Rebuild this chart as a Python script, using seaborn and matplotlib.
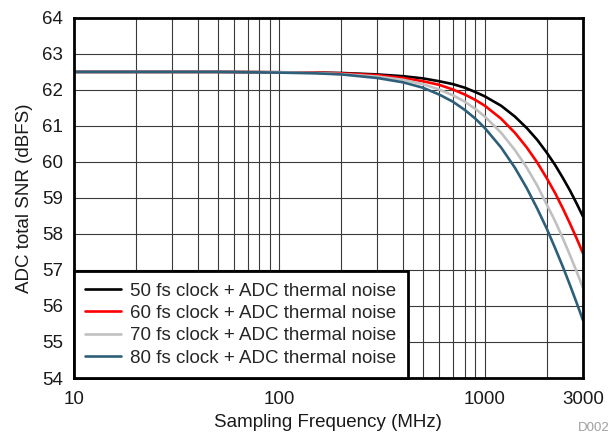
import matplotlib
matplotlib.use('Agg')

import matplotlib.pyplot as plt
import seaborn as sns
import pandas as pd
from matplotlib.ticker import FixedLocator, NullFormatter, NullLocator

# Sampling frequency (MHz) and SNR (dBFS)
freq = [10, 50, 100, 150, 200, 300, 400, 500, 600, 700, 800, 900, 1000,
        1200, 1400, 1600, 1800, 2000, 2200, 2400, 2600, 2800, 3000]
snr_50fs = [62.50, 62.50, 62.49, 62.48, 62.47, 62.43, 62.38, 62.32, 62.24, 62.16, 62.06, 61.94, 61.82,
            61.56, 61.26, 60.94, 60.61, 60.26, 59.91, 59.55, 59.20, 58.84, 58.49]
snr_60fs = [62.50, 62.50, 62.49, 62.48, 62.46, 62.41, 62.33, 62.24, 62.14, 62.01, 61.87, 61.72, 61.56,
            61.20, 60.81, 60.40, 59.98, 59.55, 59.13, 58.70, 58.28, 57.87, 57.47]
snr_70fs = [62.50, 62.50, 62.49, 62.47, 62.44, 62.37, 62.28, 62.16, 62.01, 61.85, 61.67, 61.47, 61.26,
            60.81, 60.33, 59.84, 59.34, 58.82, 58.35, 57.87, 57.40, 56.95, 56.51]
snr_80fs = [62.50, 62.50, 62.48, 62.46, 62.43, 62.33, 62.21, 62.06, 61.87, 61.67, 61.44, 61.20, 60.94,
            60.40, 59.84, 59.27, 58.70, 58.15, 57.60, 57.08, 56.57, 56.08, 55.61]

labels = ['50 fs clock + ADC thermal noise', '60 fs clock + ADC thermal noise',
          '70 fs clock + ADC thermal noise', '80 fs clock + ADC thermal noise']
colores = ['#000000', '#ff0000', '#c0c0c0', '#2e5f7a']

df = pd.concat([
    pd.DataFrame({'freq': freq, 'snr': s, 'serie': l})
    for s, l in zip([snr_50fs, snr_60fs, snr_70fs, snr_80fs], labels)
])

sns.set_style('white')
plt.rcParams['font.family'] = ['Liberation Sans', 'DejaVu Sans']
fs = 13.5

fig = plt.figure(figsize=(6.11, 4.36), dpi=100)
ax = fig.add_axes([0.121, 0.133, 0.833, 0.826])

sns.lineplot(data=df, x='freq', y='snr', hue='serie', palette=colores,
             linewidth=1.9, ax=ax)

ax.set_xscale('log')
ax.set_xlim(10, 3000)
ax.set_ylim(54, 64)

# grid lines (decades + minors)
grid_x = [20, 30, 40, 50, 60, 70, 80, 90, 100, 200, 300, 400, 500, 600, 700, 800, 900, 1000, 2000]
for gx in grid_x:
    ax.axvline(gx, color='#3a3a3a', linewidth=0.8, zorder=0)
for gy in range(55, 64):
    ax.axhline(gy, color='#3a3a3a', linewidth=0.8, zorder=0)

ax.xaxis.set_major_locator(FixedLocator([10, 100, 1000, 3000]))
ax.set_xticklabels(['10', '100', '1000', '3000'])
ax.xaxis.set_minor_locator(NullLocator())
ax.xaxis.set_minor_formatter(NullFormatter())
ax.set_yticks(range(54, 65))
ax.tick_params(axis='x', length=0, labelsize=fs, pad=9, colors='#1a1a1a')
ax.tick_params(axis='y', length=0, labelsize=fs, pad=8, colors='#1a1a1a')

ax.set_xlabel('Sampling Frequency (MHz)', fontsize=fs, labelpad=5, color='#1a1a1a')
ax.set_ylabel('ADC total SNR (dBFS)', fontsize=fs, labelpad=6, color='#1a1a1a')

for sp in ax.spines.values():
    sp.set_color('black')
    sp.set_linewidth(2)

leg = ax.legend(loc='lower left', borderaxespad=0, fancybox=False, fontsize=fs,
                handlelength=1.9, handletextpad=0.5, labelspacing=0.28,
                borderpad=0.6, framealpha=1)
leg.get_frame().set_edgecolor('black')
leg.get_frame().set_linewidth(2)
for h in leg.get_lines():
    h.set_linewidth(1.9)

fig.text(0.998, 0.005, 'D002', ha='right', va='bottom', fontsize=9.5, color='#a0a0a0')

fig.savefig('out.png', dpi=100)
plt.close()
